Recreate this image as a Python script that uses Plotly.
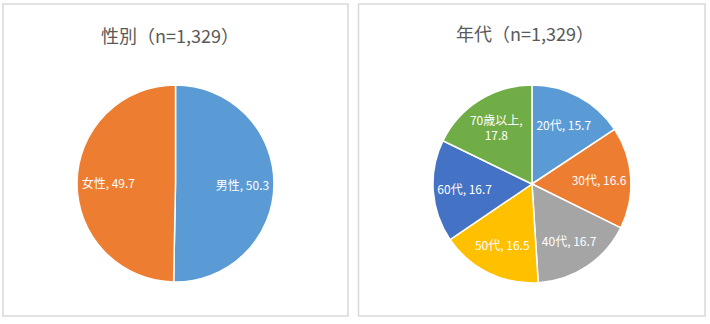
import plotly.graph_objects as go

W, H = 710, 324

gender_labels = ["男性", "女性"]
gender_values = [50.3, 49.7]
gender_colors = ["#5B9BD5", "#ED7D31"]

age_labels = ["20代", "30代", "40代", "50代", "60代", "70歳以上"]
age_values = [15.7, 16.6, 16.7, 16.5, 16.7, 17.8]
age_colors = ["#5B9BD5", "#ED7D31", "#A5A5A5", "#FFC000", "#4472C4", "#70AD47"]
age_templates = ["%{label}, %{value}"] * 5 + ["%{label},<br>%{value}"]

title_left = "性別（n=1,329）"
title_right = "年代（n=1,329）"

FONT = "Noto Sans CJK JP"


def px(x):
    return x / W


def py(y):
    return 1 - y / H


fig = go.Figure()


def add_pie(labels, values, colors, templates, dom):
    # base slices
    fig.add_trace(go.Pie(
        labels=labels, values=values,
        marker=dict(colors=colors, line=dict(color="white", width=1.5)),
        sort=False, direction="clockwise", rotation=0,
        textinfo="none", domain=dom, showlegend=False,
        hoverinfo="label+value",
    ))
    # transparent ring carrying the data labels further out
    fig.add_trace(go.Pie(
        labels=labels, values=values, hole=0.36,
        marker=dict(colors=["rgba(0,0,0,0)"] * len(values),
                    line=dict(width=0)),
        sort=False, direction="clockwise", rotation=0,
        texttemplate=templates,
        textposition="inside", insidetextorientation="horizontal",
        textfont=dict(color="white", size=12, family=FONT),
        domain=dom, showlegend=False, hoverinfo="skip",
    ))


add_pie(gender_labels, gender_values, gender_colors, "%{label}, %{value}",
        dict(x=[px(77), px(274)], y=[py(282), py(85)]))
add_pie(age_labels, age_values, age_colors, age_templates,
        dict(x=[px(433), px(631)], y=[py(283), py(85)]))

shapes = []
for x0, x1 in [(3, 348), (358.5, 705)]:
    shapes.append(dict(type="rect", xref="paper", yref="paper",
                       x0=px(x0), x1=px(x1), y0=py(316), y1=py(4),
                       line=dict(color="#D9D9D9", width=1.5),
                       fillcolor="rgba(0,0,0,0)", layer="below"))

annotations = [
    dict(text=title_left, x=px(170), y=py(35), xref="paper", yref="paper",
         xanchor="center", yanchor="middle",
         showarrow=False, font=dict(size=18, color="#595959", family=FONT)),
    dict(text=title_right, x=px(525), y=py(33), xref="paper", yref="paper",
         xanchor="center", yanchor="middle",
         showarrow=False, font=dict(size=18, color="#595959", family=FONT)),
]

fig.update_layout(
    width=W, height=H,
    margin=dict(l=0, r=0, t=0, b=0),
    paper_bgcolor="white", plot_bgcolor="white",
    shapes=shapes, annotations=annotations,
    uniformtext=dict(minsize=9, mode="show"),
)

fig.write_html("out.html")
